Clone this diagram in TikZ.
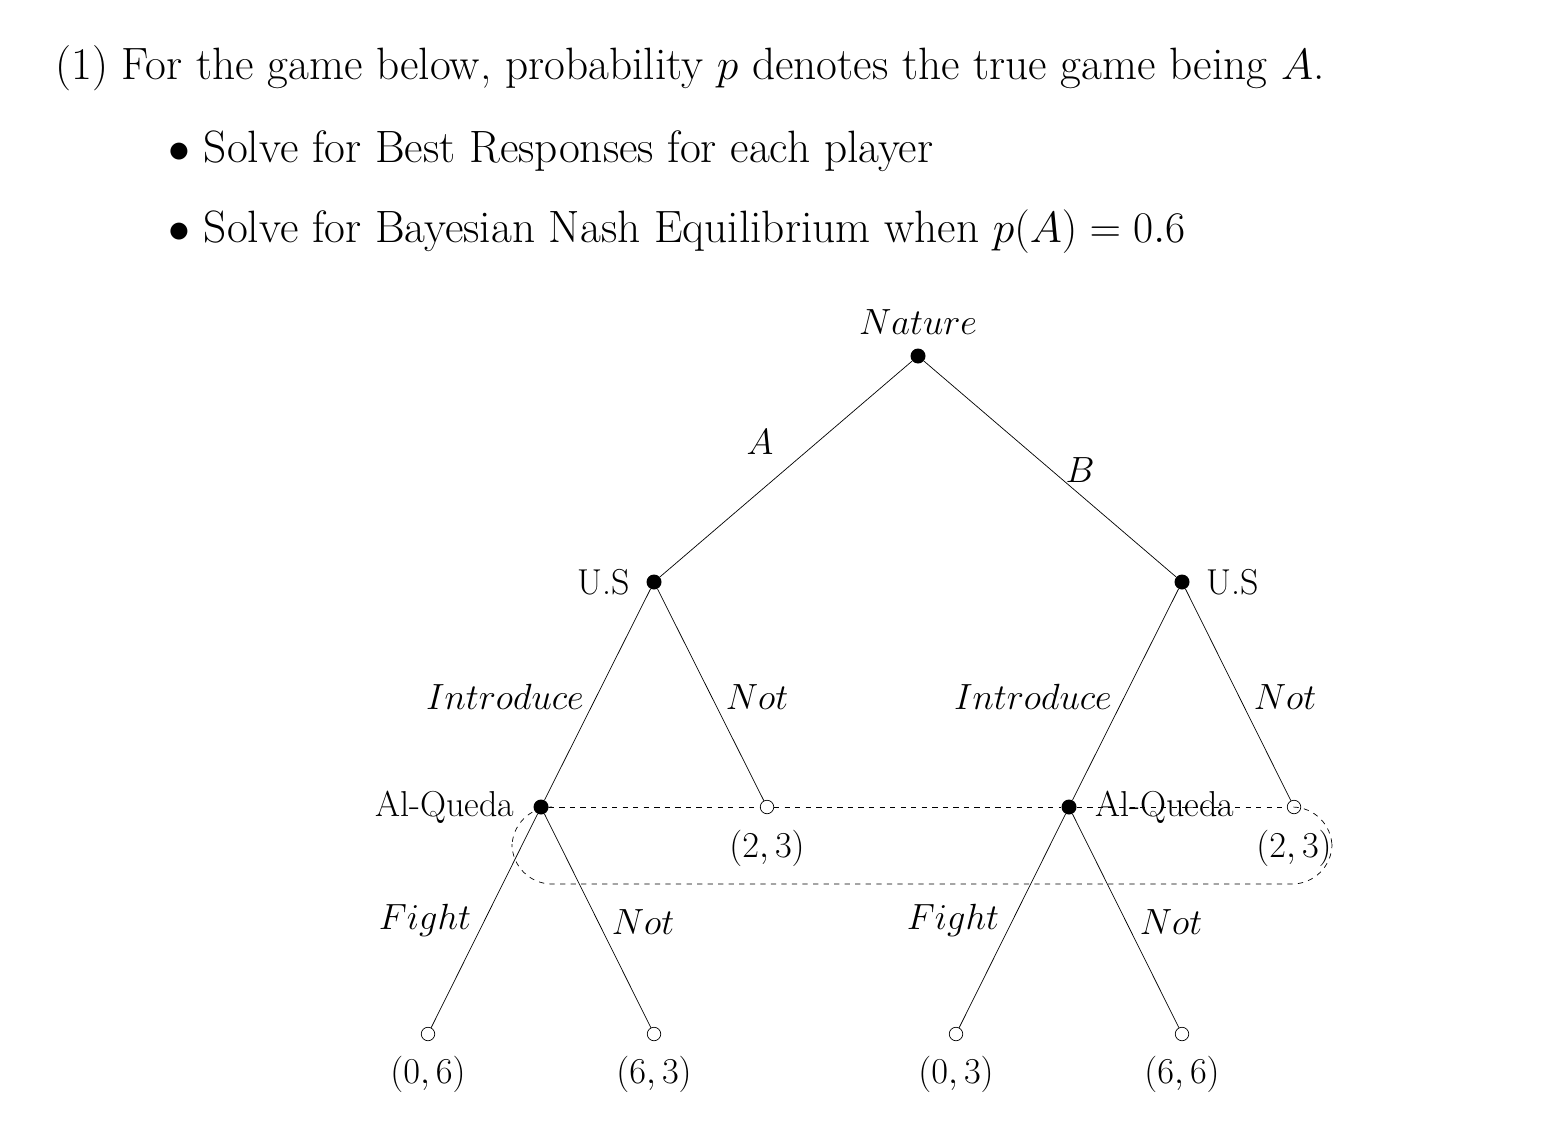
\documentclass[tikz,border=0pt]{standalone}
\begin{document}
\begin{tikzpicture}[x=0.02cm,y=-0.02cm,
  dot/.style={circle,fill=black,inner sep=0pt,minimum size=0.3cm},
  leaf/.style={circle,draw=black,fill=white,inner sep=0pt,minimum size=0.27cm},
  lab/.style={font=\fontsize{20.5}{24}\selectfont},
  hd/.style={font=\fontsize{25.8}{30}\selectfont,anchor=base west,inner sep=0pt}]
\useasboundingbox (0,0) rectangle (1550,1122);
\node[hd] (h1) at (55,80) {(1)\ For the game below, probability $p$ denotes the true game being $A$.};
\node[hd] (h2) at (168,162) {$\bullet$\ Solve for Best Responses for each player};
\node[hd] (h3) at (168,242) {$\bullet$\ Solve for Bayesian Nash Equilibrium when $p(A)=0.6$};

\node[dot] (n) at (918,356) {};
\node[lab] (nl) at (918,322) {$Nature$};
\node[dot] (u1) at (654,582) {};
\node[dot] (u2) at (1182,582) {};
\node[lab] (u1l) at (604,582) {U.S};
\node[lab] (u2l) at (1233,582) {U.S};
\node[dot] (q1) at (541,807) {};
\node[dot] (q2) at (1069,807) {};
\node[lab] (q1l) at (445,807) {Al-Queda};
\node[lab] (q2l) at (1165,807) {Al-Queda};
\node[leaf] (t1) at (767,807) {};
\node[leaf] (t2) at (1294,807) {};
\node[leaf] (l1) at (428,1034) {};
\node[leaf] (l2) at (654,1034) {};
\node[leaf] (l3) at (956,1034) {};
\node[leaf] (l4) at (1182,1034) {};

\draw (n) -- (u1); \draw (n) -- (u2);
\draw (u1) -- (q1); \draw (u1) -- (t1);
\draw (u2) -- (q2); \draw (u2) -- (t2);
\draw (q1) -- (l1); \draw (q1) -- (l2);
\draw (q2) -- (l3); \draw (q2) -- (l4);
\draw[dashed] (q1) -- (t1) -- (q2) -- (t2);
\draw[dashed,rounded corners=0.8cm] (541,807) -- (512,807) -- (512,884) -- (1332,884) -- (1332,807) -- (1294,807);

\node[lab] (a) at (760,442) {$A$};
\node[lab] (b) at (1080,470) {$B$};
\node[lab] (i1) at (505,697) {$Introduce$};
\node[lab] (i2) at (1033,697) {$Introduce$};
\node[lab] (m1) at (757,697) {$Not$};
\node[lab] (m2) at (1285,697) {$Not$};
\node[lab] (f1) at (425,920) {$Fight$};
\node[lab] (f2) at (953,920) {$Fight$};
\node[lab] (o1) at (643,922) {$Not$};
\node[lab] (o2) at (1171,922) {$Not$};
\node[lab] (p1) at (767,848) {$(2,3)$};
\node[lab] (p2) at (1294,848) {$(2,3)$};
\node[lab] (r1) at (428,1074) {$(0,6)$};
\node[lab] (r2) at (654,1074) {$(6,3)$};
\node[lab] (r3) at (956,1074) {$(0,3)$};
\node[lab] (r4) at (1182,1074) {$(6,6)$};
\end{tikzpicture}
\end{document}
